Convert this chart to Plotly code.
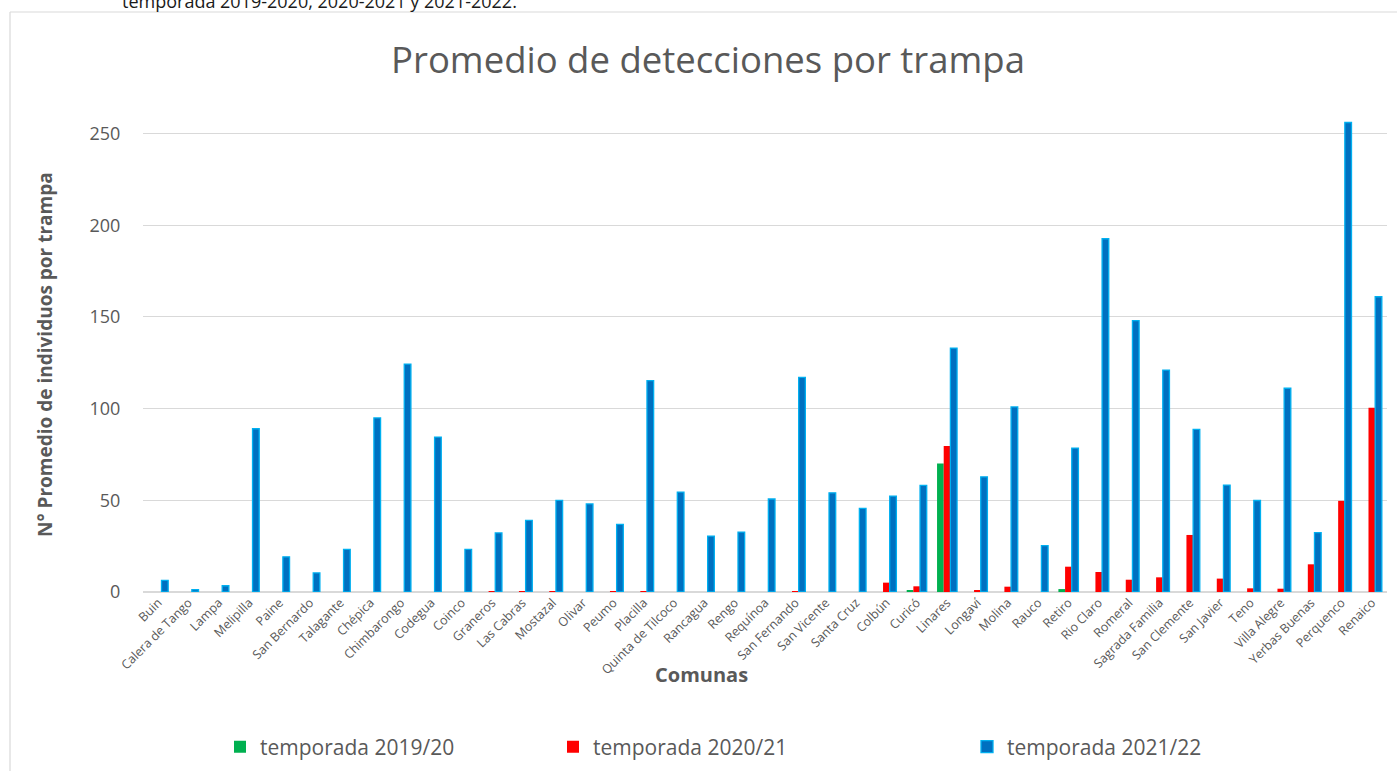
import plotly.graph_objects as go

comunas = ["Buin", "Calera de Tango", "Lampa", "Melipilla", "Paine", "San Bernardo", "Talagante",
           "Chépica", "Chimbarongo", "Codegua", "Coinco", "Graneros", "Las Cabras", "Mostazal",
           "Olivar", "Peumo", "Placilla", "Quinta de Tilcoco", "Rancagua", "Rengo", "Requínoa",
           "San Fernando", "San Vicente", "Santa Cruz", "Colbún", "Curicó", "Linares", "Longaví",
           "Molina", "Rauco", "Retiro", "Rio Claro", "Romeral", "Sagrada Familia", "San Clemente",
           "San Javier", "Teno", "Villa Alegre", "Yerbas Buenas", "Perquenco", "Renaico"]

t2019_20 = [0, 0, 0, 0, 0, 0, 0, 0, 0, 0, 0, 0, 0, 0, 0, 0, 0, 0, 0, 0, 0, 0, 0, 0,
            0, 1.1, 70, 0, 0, 0, 1.6, 0, 0, 0, 0, 0, 0, 0, 0, 0, 0]

t2020_21 = [0, 0, 0, 0, 0, 0, 0, 0, 0, 0, 0, 0.5, 0.5, 0.5, 0, 0.5, 0.5, 0, 0, 0, 0, 0.5, 0, 0,
            5.1, 3.1, 79.6, 0.8, 2.9, 0, 13.8, 10.9, 6.7, 8.0, 31.1, 7.3, 2.0, 1.8, 15.1, 49.7, 100.4]

t2021_22 = [6.3, 1.3, 3.4, 89, 19.2, 10.4, 23.2, 94.9, 124.3, 84.5, 23.2, 32.2, 39, 50, 48, 36.9,
            115.2, 54.5, 30.5, 32.7, 50.7, 117, 54.1, 45.6, 52.3, 58.1, 133, 62.8, 100.9, 25.3,
            78.5, 192.6, 148, 121, 88.7, 58.3, 49.9, 111.1, 32.4, 256, 161]

y_ticks = [0, 50, 100, 150, 200, 250]

W, H = 1397, 771
ML, MR, MT, MB = 143, 10, 112, 179
PW, PH = W - ML - MR, H - MT - MB
BOTTOM = H - MB


def px2x(px):
    return (px - ML) / PW


def py2y(py):
    return (BOTTOM - py) / PH


TXT = "#595959"
FONT = "Open Sans"

fig = go.Figure()
fig.add_trace(go.Bar(x=comunas, y=t2019_20, name="temporada 2019/20",
                     marker=dict(color="#00B050", line=dict(width=0)), legend="legend"))
fig.add_trace(go.Bar(x=comunas, y=t2020_21, name="temporada 2020/21",
                     marker=dict(color="#FF0000", line=dict(width=0)), legend="legend2"))
fig.add_trace(go.Bar(x=comunas, y=t2021_22, name="temporada 2021/22",
                     marker=dict(color="#0070C0", line=dict(color="#00B0F0", width=1.3)),
                     legend="legend3"))

leg_common = dict(orientation="h", xref="container", yref="container", yanchor="middle",
                  xanchor="left", y=1 - 747 / H, bgcolor="rgba(0,0,0,0)",
                  font=dict(family=FONT, size=21, color=TXT))

fig.update_layout(
    width=W, height=H,
    margin=dict(l=ML, r=MR, t=MT, b=MB, autoexpand=False),
    paper_bgcolor="white", plot_bgcolor="white",
    barmode="group", bargap=0.34, bargroupgap=0,
    font=dict(family=FONT, color=TXT),
    title=dict(text="Promedio de detecciones por trampa", xref="container", yref="container",
               x=708 / W, xanchor="center", y=1 - 60 / H, yanchor="middle",
               font=dict(family=FONT, size=36.5, color=TXT)),
    legend=dict(x=220 / W, **leg_common),
    legend2=dict(x=553 / W, **leg_common),
    legend3=dict(x=967 / W, **leg_common),
    xaxis=dict(type="category", tickangle=-45, tickfont=dict(family=FONT, size=12.5, color=TXT),
               showgrid=False, showline=False, ticks=""),
    yaxis=dict(range=[0, PH / 1.834], tickvals=y_ticks, showgrid=True, gridcolor="#D9D9D9",
               gridwidth=1.3, zeroline=True, zerolinecolor="#D9D9D9", zerolinewidth=1.5,
               tickfont=dict(family=FONT, size=18, color=TXT), ticks="outside", ticklen=18,
               tickcolor="rgba(0,0,0,0)"),
    showlegend=True,
)

# Frame of the chart area
fig.add_shape(type="line", xref="paper", yref="paper", x0=px2x(10), x1=px2x(10),
              y0=py2y(12), y1=py2y(800), line=dict(color="#D9D9D9", width=1.2))
fig.add_shape(type="line", xref="paper", yref="paper", x0=px2x(10), x1=px2x(1420),
              y0=py2y(12), y1=py2y(12), line=dict(color="#D9D9D9", width=1.2))

# Axis titles
fig.add_annotation(text="<b>N° Promedio de individuos por trampa</b>", xref="paper", yref="paper",
                   x=px2x(45), y=py2y(355), textangle=-90, showarrow=False,
                   xanchor="center", yanchor="middle",
                   font=dict(family=FONT, size=19, color=TXT))
fig.add_annotation(text="<b>Comunas</b>", xref="paper", yref="paper",
                   x=px2x(701), y=py2y(674), showarrow=False, xanchor="center", yanchor="middle",
                   font=dict(family=FONT, size=20, color=TXT))

# Cut-off document text above the chart (as in the reference)
fig.add_annotation(text="temporada 2019-2020, 2020-2021 y 2021-2022.", xref="paper", yref="paper",
                   x=px2x(120), y=py2y(1), showarrow=False, xanchor="left", yanchor="middle",
                   font=dict(family=FONT, size=18, color="#1a1a1a"))

fig.write_html("out.html", config={"displayModeBar": False},
               post_script="document.body.style.margin='0';")
